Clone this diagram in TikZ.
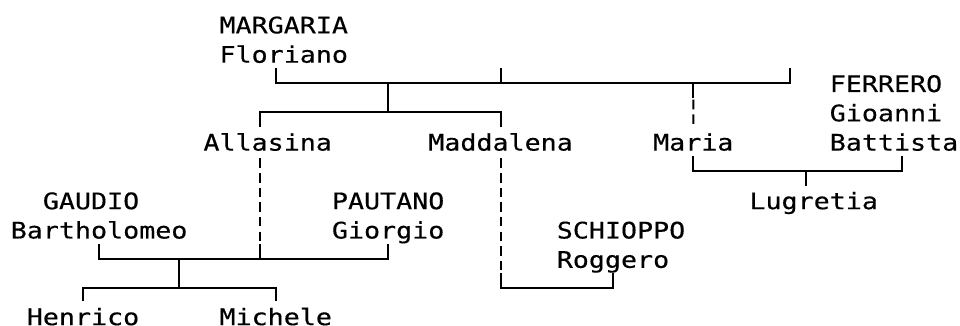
\documentclass[tikz,border=0pt]{standalone}
\usepackage{fontspec}
\usepackage{tikz}
\usetikzlibrary{positioning}
\newfontfamily\chartfont[FakeStretch=1.17, FakeBold=0.35]{DejaVu Sans Mono}
\tikzstyle{person} = [inner sep=0pt, outer sep=0pt, anchor=west, text height=11.82pt, text depth=2.83pt, font={\chartfont\fontsize{11.4pt}{14.65pt}\selectfont}]
\tikzstyle{link} = [line width=1pt]
\tikzstyle{dashedlink} = [line width=1pt, dash pattern=on 4.8pt off 2.53pt, dash phase=6.33pt]

\begin{document}
\begin{tikzpicture}[x=8.03pt, y=-14.65pt]
    \useasboundingbox (-1.17,-0.833) rectangle (58.61,10.293);
    % Nodes
    \node (margaria) [person] at (12.5,0) {MARGARIA};
    \node (floriano) [person, below=0pt of margaria.south west, anchor=north west] {Floriano};
    \node (allasina) [person] at (11.5,4) {Allasina};
    \node (maddalena) [person] at (25.5,4) {Maddalena};
    \node (maria) [person] at (39.5,4) {Maria};
    \node (ferrero) [person] at (50.5,2) {FERRERO};
    \node (gioanni) [person, below=0pt of ferrero.south west, anchor=north west] {Gioanni};
    \node (battista) [person, below=0pt of gioanni.south west, anchor=north west] {Battista};
    \node (lugretia) [person] at (45.5,6) {Lugretia};
    \node (gaudio) [person] at (1.5,6) {GAUDIO};
    \node (bartholomeo) [person] at (-0.5,7) {Bartholomeo};
    \node (pautano) [person] at (19.5,6) {PAUTANO};
    \node (giorgio) [person, below=0pt of pautano.south west, anchor=north west] {Giorgio};
    \node (schioppo) [person] at (33.5,7) {SCHIOPPO};
    \node (roggero) [person, below=0pt of schioppo.south west, anchor=north west] {Roggero};
    \node (henrico) [person, text depth=0pt] at (0.5,9.86) {Henrico};
    \node (michele) [person, text depth=0pt] at (12.5,9.86) {Michele};

    % Junctions
    \coordinate (wifeA) at (30,1.5);
    \coordinate (wifeB) at (48,1.5);
    \coordinate (famA) at (23,2);
    \coordinate (famB) at (42,2);
    \coordinate (kidsA) at (23,3);
    \coordinate (famC) at (49,5);
    \coordinate (famD) at (10,8);
    \coordinate (kidsD) at (10,9);

    % Edges
    \draw [link] (floriano.south) ++(-0.5,0) |- (wifeB |- famA) -- (wifeB);
    \draw [link] (wifeA) -- (wifeA |- famA);
    \draw [link] (famA) -- (kidsA);
    \draw [link] (allasina.north) ++(-0.5,0) |- (kidsA) -| (maddalena.north);
    \draw [link] (famB) -- ++(0,0.5) coordinate (famB-low);
    \draw [dashedlink] (famB-low) -- (maria.north);
    \draw [link] (maria.south) |- (famC);
    \draw [link] (battista.south) ++(0.5,0) |- (famC);
    \draw [link] (famC) -- (lugretia.north -| famC);
    \draw [dashedlink] (allasina.south) ++(-0.5,0) coordinate (alla-low) -- (alla-low |- giorgio.south);
    \draw [link] (alla-low |- giorgio.south) -- (alla-low |- famD);
    \draw [link] (bartholomeo.south) |- (famD) -| (giorgio.south);
    \draw [link] (famD) -- (kidsD);
    \draw [link] (henrico.north) |- (kidsD) -| (michele.north);
    \draw [dashedlink] (maddalena.south) -- (maddalena.south |- roggero.south);
    \draw [link] (maddalena.south |- roggero.south) |- (kidsD -| roggero.south) -- (roggero.south);
\end{tikzpicture}
\end{document}
